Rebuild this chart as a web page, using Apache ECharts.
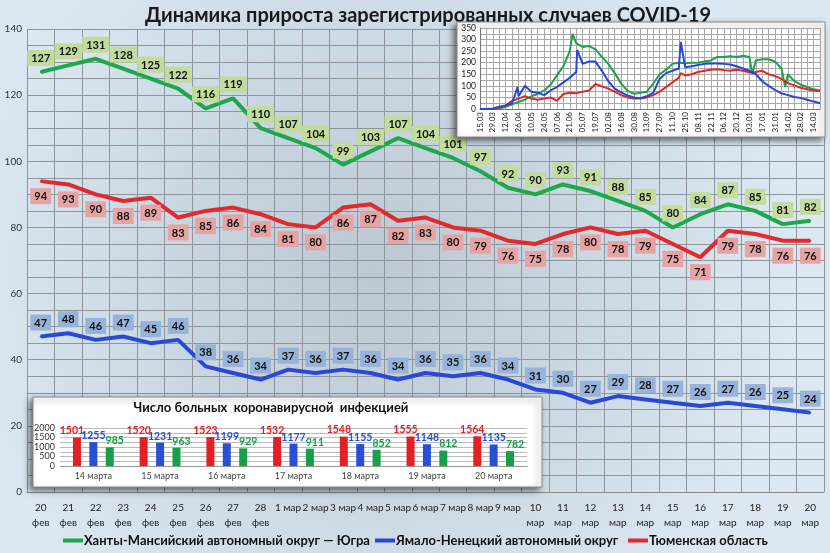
<!DOCTYPE html>
<html><head><meta charset="utf-8">
<script src="https://cdn.jsdelivr.net/npm/echarts@6/dist/echarts.min.js"></script>
<style>html,body{margin:0;padding:0;}#c{width:830px;height:553px;}</style>
</head><body><div id="c"></div>
<script>
// ---- main chart data ----
const categories = ['20\nфев','21\nфев','22\nфев','23\nфев','24\nфев','25\nфев','26\nфев','27\nфев','28\nфев',
  '1 мар','2 мар','3 мар','4 мар','5 мар','6 мар','7 мар','8 мар','9 мар',
  '10\nмар','11\nмар','12\nмар','13\nмар','14\nмар','15\nмар','16\nмар','17\nмар','18\nмар','19\nмар','20\nмар'];
const khmao  = [127,129,131,128,125,122,116,119,110,107,104,99,103,107,104,101,97,92,90,93,91,88,85,80,84,87,85,81,82];
const tyumen = [94,93,90,88,89,83,85,86,84,81,80,86,87,82,83,80,79,76,75,78,80,78,79,75,71,79,78,76,76];
const yanao  = [47,48,46,47,45,46,38,36,34,37,36,37,36,34,36,35,36,34,31,30,27,29,28,27,26,27,26,25,24];
const names = ['Ханты-Мансийский автономный округ — Югра','Ямало-Ненецкий автономный округ','Тюменская область'];

// ---- inset (daily dynamics, sampled weekly from 15.03) ----
const insetTickLabels = ['15.03','29.03','12.04','26.04','10.05','24.05','07.06','21.06','05.07','19.07','02.08','16.08','30.08','13.09','27.09','11.10','25.10','08.11','22.11','06.12','20.12','03.01','17.01','31.01','14.02','28.02','14.03'];
const insetDays = [0,7,14,21,28,35,42,49,56,63,70,77,84,91,98,105,112,119,126,133,140,147,154,161,168,175,182,189,196,203,210,217,224,231,238,245,252,259,266,273,280,287,294,301,308,315,322,329,336,343,350,357,364,371];
const insetGreen = [0,0,0,2,10,20,30,40,55,65,80,105,145,185,250,285,268,272,258,225,195,155,110,78,66,70,75,110,150,170,195,200,198,200,200,205,210,225,225,228,225,230,225,210,215,215,205,175,150,120,105,95,85,80];
const insetBlue  = [0,0,2,10,15,25,55,100,75,70,60,80,95,115,135,160,195,205,205,165,120,88,72,58,50,47,55,70,130,155,165,175,180,185,190,195,197,197,195,192,185,175,165,150,120,100,82,68,60,52,48,40,32,25];
const insetRed   = [0,0,0,5,15,35,45,55,45,40,45,50,35,65,70,68,75,80,108,98,88,75,60,50,45,45,50,60,75,95,115,135,145,150,160,165,170,172,168,165,170,165,158,160,165,150,142,130,112,102,92,85,80,78];
const greenSpikes = [[101,325],[297,150],[333,95]];
const blueSpikes  = [[41,95],[106,255],[219,290]];
const redSpikes   = [[219,155]];

// ---- bar inset ----
const barDates = ['14 марта','15 марта','16 марта','17 марта','18 марта','19 марта','20 марта'];
const barTyumen = [1501,1520,1523,1532,1548,1555,1564];
const barYanao  = [1255,1231,1199,1177,1155,1148,1135];
const barKhmao  = [985,963,929,911,852,812,782];

const F = 'Lato, "Open Sans", sans-serif';
const cG = '#1ea84c', cB = '#2a48d8', cR = '#e4282c';

function pts(vals, spikes){
  const a = insetDays.map((d,i)=>[d, vals[i]]);
  spikes.forEach(s=>a.push(s));
  a.sort((p,q)=>p[0]-q[0]);
  return a;
}
function lbl(pos, bg, dist){
  return {show:true, position:pos, distance:dist, backgroundColor:bg, padding:[3,4,2,4],
    fontFamily:F, fontWeight:'bold', fontSize:11, color:'#111'};
}
function barLbl(color, dx){
  return {show:true, position:'top', distance:1, offset:[dx,0], fontFamily:F, fontWeight:'bold', fontSize:10.5, color:color};
}

const chart = echarts.init(document.getElementById('c'), null, {renderer:'canvas'});
const option = {
  animation:false,
  backgroundColor:{type:'radial', x:0.45, y:0.5, r:0.75,
    colorStops:[{offset:0,color:'#bcc7d1'},{offset:0.55,color:'#cbd9e4'},{offset:1,color:'#dbe8f1'}]},
  title:{text:'Динамика прироста зарегистрированных случаев COVID-19', left:140, top:1,
    textStyle:{fontFamily:F, fontWeight:'bold', fontSize:20, color:'#1a1a1a'}},
  legend:[
    {data:[names[0]], left:58, top:529, icon:'rect', itemWidth:20, itemHeight:4, itemGap:0,
      textStyle:{fontFamily:F, fontWeight:'bold', fontSize:13, color:'#111', padding:[0,0,0,-4]}},
    {data:[names[1]], left:370, top:529, icon:'rect', itemWidth:20, itemHeight:4, itemGap:0,
      textStyle:{fontFamily:F, fontWeight:'bold', fontSize:13, color:'#111', padding:[0,0,0,-4]}},
    {data:[names[2]], left:623, top:529, icon:'rect', itemWidth:20, itemHeight:4, itemGap:0,
      textStyle:{fontFamily:F, fontWeight:'bold', fontSize:13, color:'#111', padding:[0,0,0,-4]}}
  ],
  grid:[
    {left:27, right:6, top:29, bottom:61},
    {left:480, top:28, width:340, height:81},
    {left:60, top:428, width:467, height:38}
  ],
  xAxis:[
    {gridIndex:0, type:'category', data:categories, boundaryGap:true,
      axisLine:{lineStyle:{color:'#8a8a8a'}}, axisTick:{show:false},
      axisLabel:{interval:0, fontFamily:F, fontSize:10, color:'#222', margin:8, lineHeight:15},
      splitLine:{show:true, interval:0, lineStyle:{color:'#8f959b', width:1}}},
    {gridIndex:1, type:'value', min:0, max:371, interval:14, z:20,
      axisLine:{show:true, onZero:false, lineStyle:{color:'#777'}}, axisTick:{show:false},
      axisLabel:{rotate:90, fontFamily:F, fontSize:8, color:'#222', margin:3, showMaxLabel:false,
        formatter:v=>insetTickLabels[Math.round(v/14)] || ''},
      splitLine:{show:true, lineStyle:{color:'#a8a8a8', width:1}},
      minorTick:{show:false, splitNumber:2},
      minorSplitLine:{show:true, lineStyle:{color:'#a8a8a8', width:1}}},
    {gridIndex:2, type:'category', data:barDates, z:20,
      axisLine:{lineStyle:{color:'#999'}}, axisTick:{show:false},
      axisLabel:{fontFamily:F, fontSize:9, color:'#444', margin:6}}
  ],
  yAxis:[
    {gridIndex:0, type:'value', min:0, max:140, interval:20,
      axisLine:{show:false}, axisTick:{show:false},
      axisLabel:{fontFamily:F, fontSize:10, color:'#333', margin:5},
      splitLine:{lineStyle:{color:'#8f959b', width:1}},
      minorTick:{show:false, splitNumber:4},
      minorSplitLine:{show:true, lineStyle:{color:'#8f959b', width:1}}},
    {gridIndex:1, type:'value', min:0, max:350, interval:50, z:20,
      axisLine:{show:true, lineStyle:{color:'#777'}}, axisTick:{show:false},
      axisLabel:{fontFamily:F, fontSize:8.5, color:'#222', margin:4},
      splitLine:{lineStyle:{color:'#a8a8a8'}},
      minorTick:{show:false, splitNumber:2},
      minorSplitLine:{show:true, lineStyle:{color:'#a8a8a8'}}},
    {gridIndex:2, type:'value', min:0, max:2000, interval:500, z:20,
      axisLine:{show:false}, axisTick:{show:false},
      axisLabel:{fontFamily:F, fontSize:9, color:'#333', margin:5, formatter:v=>String(v)},
      splitLine:{lineStyle:{color:'#bbb'}},
      minorTick:{show:false, splitNumber:2},
      minorSplitLine:{show:true, lineStyle:{color:'#bbb'}}}
  ],
  graphic:[
    {type:'rect', z:15, shape:{x:457, y:22, width:368, height:115},
      style:{fill:'#ffffff', stroke:'#8a8a8a', lineWidth:1, shadowBlur:6, shadowOffsetX:-3, shadowOffsetY:3, shadowColor:'rgba(0,0,0,0.55)'}},
    {type:'rect', z:15, shape:{x:33, y:397, width:509, height:90},
      style:{fill:'#ffffff', stroke:'#8a8a8a', lineWidth:1, shadowBlur:6, shadowOffsetX:-3, shadowOffsetY:3, shadowColor:'rgba(0,0,0,0.55)'}},
    {type:'text', z:25, x:271, y:408, style:{text:'Число больных  коронавирусной  инфекцией', x:0, y:0,
      textAlign:'center', textVerticalAlign:'middle', fill:'#111', font:'bold 13px Lato, "Open Sans", sans-serif'}}
  ],
  series:[
    {name:names[0], type:'line', xAxisIndex:0, yAxisIndex:0, data:khmao, z:5,
      symbol:'circle', symbolSize:2, itemStyle:{color:cG}, lineStyle:{width:4, color:cG},
      label:lbl('top', '#c3db9c', 5)},
    {name:names[1], type:'line', xAxisIndex:0, yAxisIndex:0, data:yanao, z:5,
      symbol:'circle', symbolSize:2, itemStyle:{color:cB}, lineStyle:{width:4, color:cB},
      label:lbl('top', '#97b3d9', 5)},
    {name:names[2], type:'line', xAxisIndex:0, yAxisIndex:0, data:tyumen, z:5,
      symbol:'circle', symbolSize:2, itemStyle:{color:cR}, lineStyle:{width:4, color:cR},
      label:lbl('bottom', '#e5a3a3', 6)},

    {type:'line', xAxisIndex:1, yAxisIndex:1, data:pts(insetGreen, greenSpikes), z:22,
      symbol:'none', lineStyle:{width:2, color:'#1aa34a'}},
    {type:'line', xAxisIndex:1, yAxisIndex:1, data:pts(insetRed, redSpikes), z:23,
      symbol:'none', lineStyle:{width:2, color:'#e0262a'}},
    {type:'line', xAxisIndex:1, yAxisIndex:1, data:pts(insetBlue, blueSpikes), z:24,
      symbol:'none', lineStyle:{width:2, color:'#2846d8'}},

    {type:'bar', xAxisIndex:2, yAxisIndex:2, data:barTyumen, z:22, barWidth:8, barGap:'105%',
      itemStyle:{color:'#e42025'}, label:barLbl('#e42025', -5)},
    {type:'bar', xAxisIndex:2, yAxisIndex:2, data:barYanao, z:22, barWidth:8, barGap:'105%',
      itemStyle:{color:'#2a4fd6'}, label:barLbl('#2a4fd6', 0)},
    {type:'bar', xAxisIndex:2, yAxisIndex:2, data:barKhmao, z:22, barWidth:8, barGap:'105%',
      itemStyle:{color:'#14a04a'}, label:barLbl('#14a04a', 5)}
  ]
};
chart.setOption(option);
</script>
</body></html>
